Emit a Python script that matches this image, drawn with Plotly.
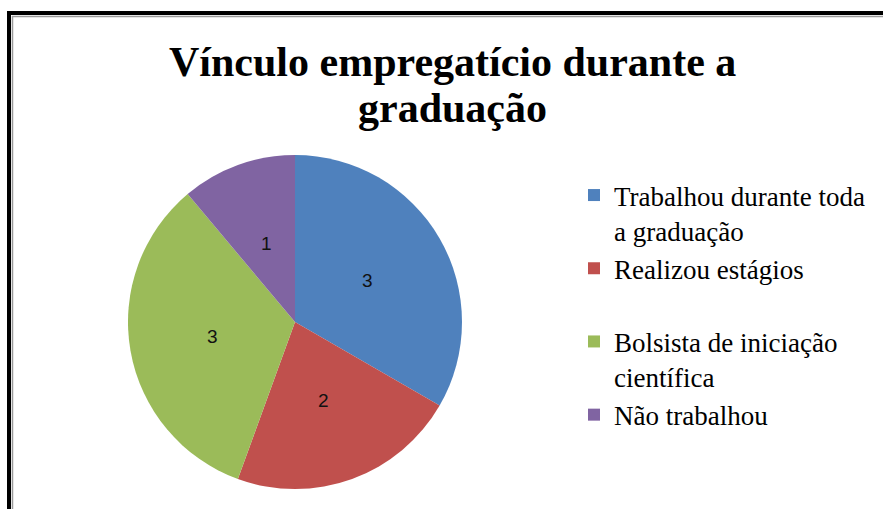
import math
import plotly.graph_objects as go

W, H = 883, 509

title_lines = ["Vínculo empregatício durante a", "graduação"]
categories = [
    "Trabalhou durante toda<br>a graduação",
    "Realizou estágios<br> ",
    "Bolsista de iniciação<br>científica",
    "Não trabalhou",
]
values = [3, 2, 3, 1]
colors = ["#4F81BD", "#C0504D", "#9BBB59", "#8064A2"]

# pie geometry (pixels)
CX, CY, R = 295, 322, 167


def px(x):
    return x / W


def py(y):
    return 1 - y / H


fig = go.Figure(
    go.Pie(
        labels=categories,
        values=values,
        sort=False,
        direction="clockwise",
        rotation=0,
        marker=dict(colors=colors, line=dict(width=0)),
        textinfo="none",
        domain=dict(x=[px(CX - R), px(CX + R)], y=[py(CY + R), py(CY - R)]),
        hoverinfo="label+value",
    )
)

annotations = []
title_y = [78, 124]
for t, yy in zip(title_lines, title_y):
    annotations.append(dict(
        text=f"<b>{t}</b>", x=px(453), y=py(yy), xref="paper", yref="paper",
        xanchor="center", yanchor="bottom", showarrow=False,
        font=dict(family="Liberation Serif", size=42, color="#000000"),
        yshift=-9,
    ))

# value labels at half radius along each slice's mid-angle (derived from the data)
total = sum(values)
cum = 0
for v in values:
    mid = (cum + v / 2) / total * 2 * math.pi
    cum += v
    lx = CX + 0.5 * R * math.sin(mid)
    ly = CY - 0.5 * R * math.cos(mid)
    annotations.append(dict(
        text=str(v), x=px(lx), y=py(ly), xref="paper", yref="paper",
        xanchor="center", yanchor="middle", showarrow=False,
        font=dict(family="Liberation Sans", size=19, color="#111111"),
    ))

shapes = [
    dict(type="line", xref="paper", yref="paper", x0=px(9), y0=py(H + 5), x1=px(9), y1=py(11),
         line=dict(color="#000000", width=4)),
    dict(type="line", xref="paper", yref="paper", x0=px(7), y0=py(13), x1=px(W + 5), y1=py(13),
         line=dict(color="#000000", width=4)),
    dict(type="line", xref="paper", yref="paper", x0=px(12.5), y0=py(H + 5), x1=px(12.5), y1=py(16),
         line=dict(color="#9a9a9a", width=1.5)),
    dict(type="line", xref="paper", yref="paper", x0=px(12), y0=py(16.5), x1=px(W + 5), y1=py(16.5),
         line=dict(color="#9a9a9a", width=1.5)),
]

fig.update_layout(
    width=W, height=H,
    margin=dict(l=0, r=0, t=0, b=0),
    paper_bgcolor="white",
    plot_bgcolor="white",
    showlegend=True,
    legend=dict(
        x=px(574), y=py(171), xanchor="left", yanchor="top",
        font=dict(family="Liberation Serif", size=27, color="#000000"),
        valign="top",
        bgcolor="rgba(0,0,0,0)",
        tracegroupgap=0,
    ),
    annotations=annotations,
    shapes=shapes,
)

fig.write_html("out.html", config={"displayModeBar": False},
               post_script="document.body.style.margin='0px';")
